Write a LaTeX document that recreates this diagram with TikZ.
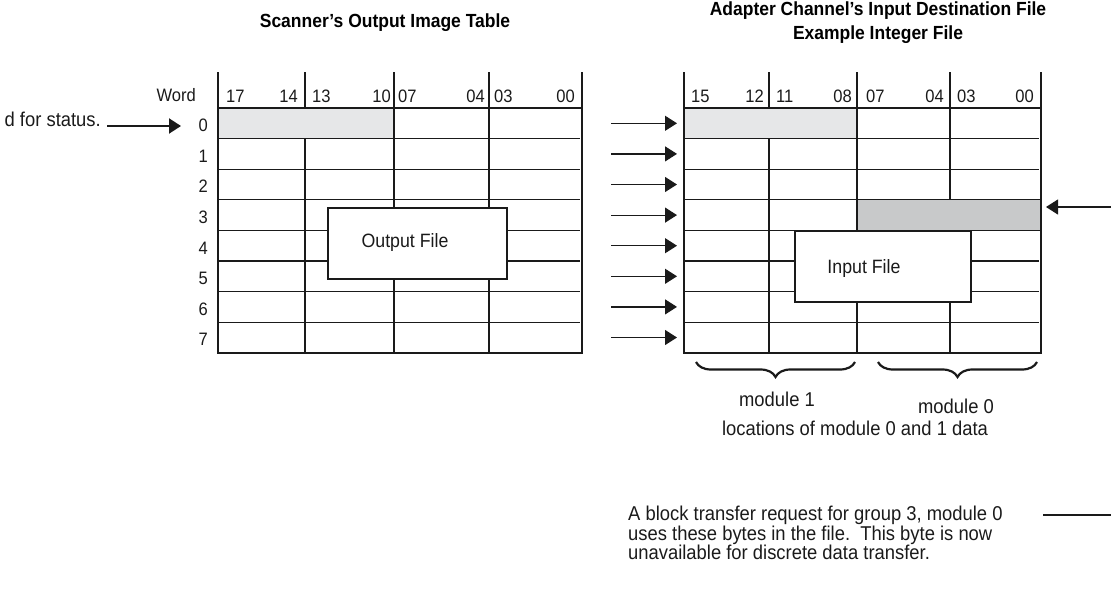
\documentclass[tikz,border=0pt]{standalone}
\usepackage{fontspec}
\setmainfont[FakeStretch=0.92]{Liberation Sans}
\usetikzlibrary{arrows.meta,positioning,decorations.pathreplacing}
\definecolor{Line}{HTML}{1A1A1A}
\definecolor{Lite}{HTML}{E6E7E8}
\definecolor{Dark}{HTML}{C8C9CA}

\begin{document}
\begin{tikzpicture}[
 x=1pt,y=-1pt,
 g/.style={draw=Line,line width=1.1pt},
 fr/.style={draw=Line,line width=1.4pt},
 t/.style={font=\fontsize{18}{18}\selectfont,inner sep=0pt,text=Line},
 body/.style={font=\fontsize{20}{20}\selectfont,inner sep=0pt,text=Line},
 ttl/.style={font=\fontsize{19}{24}\selectfont\bfseries,align=center,inner sep=0pt},
 filebox/.style={draw=Line,line width=1.2pt,fill=white},
 a/.style={-{Triangle[length=12pt,width=15pt]},line width=1.2pt,draw=Line},
 br/.style={decorate,decoration={brace,amplitude=15pt,mirror},line width=2.2pt,draw=Line}
]
\useasboundingbox (0,0) rectangle (1111,592);
% titles
\node[ttl] (tout) at (385,23) {Scanner’s Output Image Table};
\node[ttl] (tin) at (878,23) {Adapter Channel’s Input Destination File\\Example Integer File};

% scanner output image table
\fill[Lite] (218,108) rectangle (394,138.6);
\foreach \y in {138.6,169.2,199.8,230.4,261,291.6,322.2} {\draw[g] (218,\y) -- (580,\y);}
\draw[g] (305,138.6) -- (305,352.8);
\draw[g] (394,108) -- (394,352.8);\draw[g] (489,108) -- (489,352.8);
\draw[fr] (218,72) -- (218,352.8);\draw[fr] (582,72) -- (582,352.8);\draw[fr] (218,108) -- (582,108);
\draw[draw=Line,line width=2.2pt] (217.3,352.8) -- (582.7,352.8);
\draw[fr] (305,72) -- (305,108);\draw[fr] (394,72) -- (394,108);\draw[fr] (489,72) -- (489,108);
\node[filebox,minimum width=179pt,minimum height=71pt] (outfile) at (417.5,243.5) {};
\node[body,font=\fontsize{19.3}{19.3}\selectfont] (outlbl) at (405,243) {Output File};

\node[t,anchor=east] (word) at (196,95) {Word};
\node[t,anchor=west] (l17) at (226,96) {17};\node[t,anchor=east] (l14) at (298,96) {14};
\node[t,anchor=west] (l13) at (312,96) {13};\node[t,anchor=east] (l10) at (391,96) {10};
\node[t,anchor=west] (l07) at (398,96) {07};\node[t,anchor=east] (l04) at (485,96) {04};
\node[t,anchor=west] (l03) at (494,96) {03};\node[t,anchor=east] (l00) at (575,96) {00};
\foreach \i in {0,...,7} {\node[t,anchor=east] (w\i) at (208,{125.5+30.6*\i}) {\i};}

\node[body,anchor=east] (stat) at (101,119) {d for status.};
\coordinate (ss) at (107,126);\coordinate (se) at (181,126);
\draw[a,line width=2pt] (ss) -- (se);

% adapter channel input destination file
\fill[Lite] (684,108) rectangle (857,138.6);
\foreach \y in {138.6,169.2,199.8,230.4,261,291.6,322.2} {\draw[g] (684,\y) -- (1039,\y);}
\draw[g] (769,138.6) -- (769,352.8);
\draw[g] (857,108) -- (857,352.8);\draw[g] (950,108) -- (950,352.8);
\draw[fr] (684,72) -- (684,352.8);\draw[fr] (1041,72) -- (1041,352.8);\draw[fr] (684,108) -- (1041,108);
\draw[draw=Line,line width=2.2pt] (683.3,352.8) -- (1041.7,352.8);
\draw[fr] (769,72) -- (769,108);\draw[fr] (857,72) -- (857,108);\draw[fr] (950,72) -- (950,108);
\draw[fill=Dark,draw=Line,line width=1.2pt] (857,199.8) rectangle (1041,230.4);
\node[filebox,minimum width=176pt,minimum height=71pt] (infile) at (883,266.5) {};
\node[body,font=\fontsize{19.3}{19.3}\selectfont] (inlbl) at (864,269) {Input File};

\node[t,anchor=west] (r15) at (691,96) {15};\node[t,anchor=east] (r12) at (764,96) {12};
\node[t,anchor=west] (r11) at (776,96) {11};\node[t,anchor=east] (r08) at (852,96) {08};
\node[t,anchor=west] (r07) at (866,96) {07};\node[t,anchor=east] (r04) at (944,96) {04};
\node[t,anchor=west] (r03) at (957,96) {03};\node[t,anchor=east] (r00) at (1034,96) {00};

% word arrows
\foreach \i in {0,...,7} {
 \coordinate (s\i) at (611,{123.3+30.6*\i});\coordinate (e\i) at (677,{123.3+30.6*\i});
 \draw[a] (s\i) -- (e\i);
}
\coordinate (bs) at (1111,207);\coordinate (be) at (1046,207);
\draw[a] (bs) -- (be);

% modules
\coordinate (m1a) at (696,362);\coordinate (m1b) at (855,362);
\coordinate (m0a) at (878,362);\coordinate (m0b) at (1037,362);
\draw[br] (m1a) -- (m1b);\draw[br] (m0a) -- (m0b);
\node[body] (mod1) at (777,399) {module 1};
\node[body] (mod0) at (956,406) {module 0};
\node[body] (loc) at (855,428) {locations of module 0 and 1 data};

% note
\node[body,anchor=north west,align=left,font=\fontsize{20}{19.5}\selectfont] (note) at (628,506)
 {A block transfer request for group 3, module 0\\uses these bytes in the file.\ \ This byte is now\\unavailable for discrete data transfer.};
\coordinate (ns) at (1043,515);\coordinate (ne) at (1111,515);
\draw[draw=Line,line width=1.1pt] (ns) -- (ne);
\end{tikzpicture}
\end{document}
